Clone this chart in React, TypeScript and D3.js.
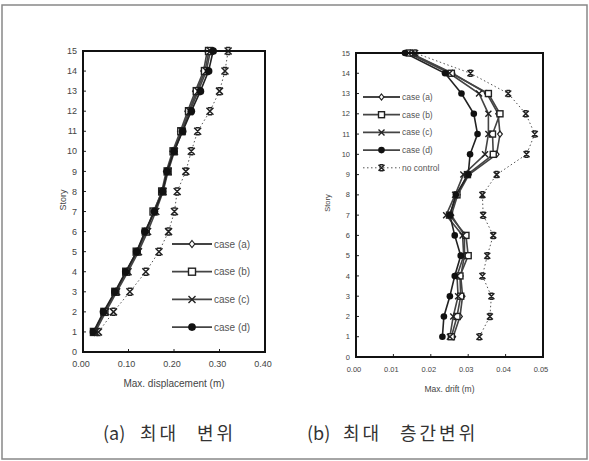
import React, { useEffect, useRef } from "react";
import * as d3 from "d3";

// stories 1..15
const stories = [1, 2, 3, 4, 5, 6, 7, 8, 9, 10, 11, 12, 13, 14, 15];
const caseNames = ["case (a)", "case (b)", "case (c)", "case (d)", "no control"];

// (a) max displacement (m)
const dispA = [0.025, 0.048, 0.072, 0.096, 0.119, 0.139, 0.156, 0.173, 0.183, 0.197, 0.214, 0.230, 0.247, 0.265, 0.273];
const dispB = [0.024, 0.047, 0.071, 0.095, 0.118, 0.138, 0.155, 0.174, 0.186, 0.199, 0.216, 0.233, 0.250, 0.268, 0.277];
const dispC = [0.027, 0.050, 0.074, 0.099, 0.122, 0.142, 0.160, 0.176, 0.187, 0.201, 0.218, 0.235, 0.253, 0.271, 0.280];
const dispD = [0.023, 0.045, 0.070, 0.094, 0.118, 0.136, 0.157, 0.175, 0.185, 0.200, 0.219, 0.238, 0.258, 0.276, 0.286];
const dispNC = [0.034, 0.067, 0.103, 0.138, 0.167, 0.188, 0.201, 0.207, 0.226, 0.238, 0.252, 0.279, 0.300, 0.312, 0.319];

// (b) max drift (m)
const driftA = [0.0260, 0.0278, 0.0285, 0.0280, 0.0290, 0.0290, 0.0255, 0.0272, 0.0302, 0.0376, 0.0385, 0.0380, 0.0350, 0.0258, 0.0145];
const driftB = [0.0255, 0.0270, 0.0280, 0.0278, 0.0300, 0.0294, 0.0250, 0.0270, 0.0298, 0.0367, 0.0365, 0.0385, 0.0354, 0.0255, 0.0143];
const driftC = [0.0251, 0.0260, 0.0273, 0.0270, 0.0288, 0.0285, 0.0241, 0.0265, 0.0287, 0.0345, 0.0354, 0.0354, 0.0329, 0.0250, 0.0140];
const driftD = [0.0231, 0.0235, 0.0251, 0.0264, 0.0280, 0.0264, 0.0251, 0.0267, 0.0300, 0.0305, 0.0325, 0.0315, 0.0282, 0.0238, 0.0131];
const driftNC = [0.0330, 0.0358, 0.0362, 0.0338, 0.0351, 0.0367, 0.0340, 0.0338, 0.0376, 0.0456, 0.0478, 0.0454, 0.0407, 0.0306, 0.0158];

const dispTicks = [0, 0.1, 0.2, 0.3, 0.4];
const driftTicks = [0, 0.01, 0.02, 0.03, 0.04, 0.05];
const storyTicks = d3.range(0, 16);

const FONT = "'Liberation Sans', Arial, sans-serif";

function drawMarker(g: any, kind: number, x: number, y: number, s: number) {
  if (kind === 0) {
    g.append("path")
      .attr("d", `M${x},${y - s}L${x + s * 0.8},${y}L${x},${y + s}L${x - s * 0.8},${y}Z`)
      .attr("fill", "#fff").attr("stroke", "#222").attr("stroke-width", 1.2);
  } else if (kind === 1) {
    g.append("rect").attr("x", x - s).attr("y", y - s).attr("width", s * 2).attr("height", s * 2)
      .attr("fill", "#fff").attr("stroke", "#222").attr("stroke-width", 1.4);
  } else if (kind === 2) {
    g.append("path")
      .attr("d", `M${x - s},${y - s}L${x + s},${y + s}M${x - s},${y + s}L${x + s},${y - s}`)
      .attr("stroke", "#222").attr("stroke-width", 1.4).attr("fill", "none");
  } else if (kind === 3) {
    g.append("circle").attr("cx", x).attr("cy", y).attr("r", s * 1.1).attr("fill", "#111");
  } else {
    g.append("path")
      .attr("d", `M${x - s},${y - s}L${x + s},${y + s}M${x - s},${y + s}L${x + s},${y - s}M${x - s * 0.6},${y - s}L${x + s * 0.6},${y - s}M${x - s * 0.6},${y + s}L${x + s * 0.6},${y + s}`)
      .attr("stroke", "#222").attr("stroke-width", 1.5).attr("fill", "none");
  }
}

function drawPanel(svg: any, opt: any) {
  const { x0, x1, y0, y1, xMax, xTicks, xFmt, series, tickFont, xLabel, legend, legendLen, markerSize } = opt;
  const x = d3.scaleLinear().domain([0, xMax]).range([x0, x1]);
  const y = d3.scaleLinear().domain([0, 15]).range([y1, y0]);
  const g = svg.append("g");

  // inward ticks
  storyTicks.forEach((t) => {
    g.append("line").attr("x1", x0).attr("x2", x0 + 3).attr("y1", y(t)).attr("y2", y(t)).attr("stroke", "#222");
    g.append("text").attr("x", x0 - 6).attr("y", y(t)).attr("dy", "0.35em").attr("text-anchor", "end")
      .attr("font-family", FONT).attr("font-size", tickFont).attr("fill", "#444").text(t);
  });
  xTicks.forEach((t: number) => {
    g.append("line").attr("x1", x(t)).attr("x2", x(t)).attr("y1", y1).attr("y2", y1 - 3).attr("stroke", "#222");
    g.append("text").attr("x", x(t) - 2).attr("y", y1 + 15).attr("text-anchor", "middle")
      .attr("font-family", FONT).attr("font-size", tickFont).attr("fill", "#444").text(xFmt(t));
  });

  const line = d3.line<number>().x((d) => x(d)).y((_, i) => y(stories[i]));
  series.forEach((vals: number[], k: number) => {
    g.append("path").attr("d", line(vals)).attr("fill", "none")
      .attr("stroke", k === 4 ? "#555" : k === 3 ? "#222" : "#444")
      .attr("stroke-width", k === 4 ? 1 : 1.6)
      .attr("stroke-dasharray", k === 4 ? "1.5,2.5" : null);
  });
  series.forEach((vals: number[], k: number) => {
    vals.forEach((v, i) => drawMarker(g, k, x(v), y(stories[i]), markerSize));
  });

  g.append("rect").attr("x", x0).attr("y", y0).attr("width", x1 - x0).attr("height", y1 - y0)
    .attr("fill", "none").attr("stroke", "#111").attr("stroke-width", 2);

  g.append("text").attr("x", (x0 + x1) / 2).attr("y", xLabel.y).attr("text-anchor", "middle")
    .attr("font-family", FONT).attr("font-size", xLabel.size).attr("fill", "#444").text(xLabel.text);
  g.append("text").attr("transform", `translate(${opt.storyX},${opt.storyY}) rotate(-90)`)
    .attr("text-anchor", "middle").attr("font-family", FONT).attr("font-size", tickFont)
    .attr("fill", "#444").text("Story");

  legend.items.forEach((k: number, i: number) => {
    const ly = legend.y + i * legend.dy;
    g.append("line").attr("x1", legend.x).attr("x2", legend.x + legendLen).attr("y1", ly).attr("y2", ly)
      .attr("stroke", k === 4 ? "#555" : "#444").attr("stroke-width", k === 4 ? 1 : 1.8)
      .attr("stroke-dasharray", k === 4 ? "1.5,2.5" : null);
    drawMarker(g, k, legend.x + legendLen / 2, ly, markerSize);
    g.append("text").attr("x", legend.x + legendLen + 2).attr("y", ly).attr("dy", "0.35em")
      .attr("font-family", FONT).attr("font-size", legend.size).attr("fill", "#555").text(caseNames[k]);
  });
}

export default function App() {
  const ref = useRef<SVGSVGElement>(null);
  useEffect(() => {
    const svg = d3.select(ref.current);
    svg.selectAll("*").remove();
    svg.append("rect").attr("x", 2).attr("y", 5).attr("width", 585).attr("height", 454)
      .attr("fill", "#fff").attr("stroke", "#888").attr("stroke-width", 1.5);

    drawPanel(svg, {
      x0: 83, x1: 265, y0: 51, y1: 352, xMax: 0.4, xTicks: dispTicks,
      xFmt: (t: number) => t.toFixed(2), tickFont: 9, markerSize: 3.5,
      series: [dispA, dispB, dispC, dispD, dispNC],
      xLabel: { text: "Max. displacement (m)", y: 387, size: 10 },
      storyX: 66, storyY: 200,
      legend: { items: [0, 1, 2, 3], x: 172, y: 244, dy: 27.7, size: 10 },
      legendLen: 40,
    });
    drawPanel(svg, {
      x0: 356, x1: 543, y0: 53, y1: 357, xMax: 0.05, xTicks: driftTicks,
      xFmt: (t: number) => t.toFixed(2), tickFont: 7.5, markerSize: 3,
      series: [driftA, driftB, driftC, driftD, driftNC],
      xLabel: { text: "Max. drift (m)", y: 392, size: 8.5 },
      storyX: 330, storyY: 203,
      legend: { items: [0, 1, 2, 3, 4], x: 363, y: 97, dy: 17.7, size: 8.5 },
      legendLen: 37,
    });

    // captions: each word placed at its measured x
    const caption = (parts: [number, string][]) => {
      const t = svg.append("text").attr("y", 440)
        .attr("font-family", "'Noto Sans CJK KR', sans-serif").attr("font-size", 18).attr("fill", "#333");
      parts.forEach(([px, s], i) => {
        t.append("tspan").attr("x", px).attr("letter-spacing", i === 0 ? 0 : 3).text(s);
      });
    };
    caption([[103, "(a)"], [140, "최대"], [197, "변위"]]);
    caption([[307, "(b)"], [343, "최대"], [400, "층간변위"]]);
  }, []);
  return <svg ref={ref} width={589} height={461} style={{ position: "absolute", left: 0, top: 0 }} />;
}
